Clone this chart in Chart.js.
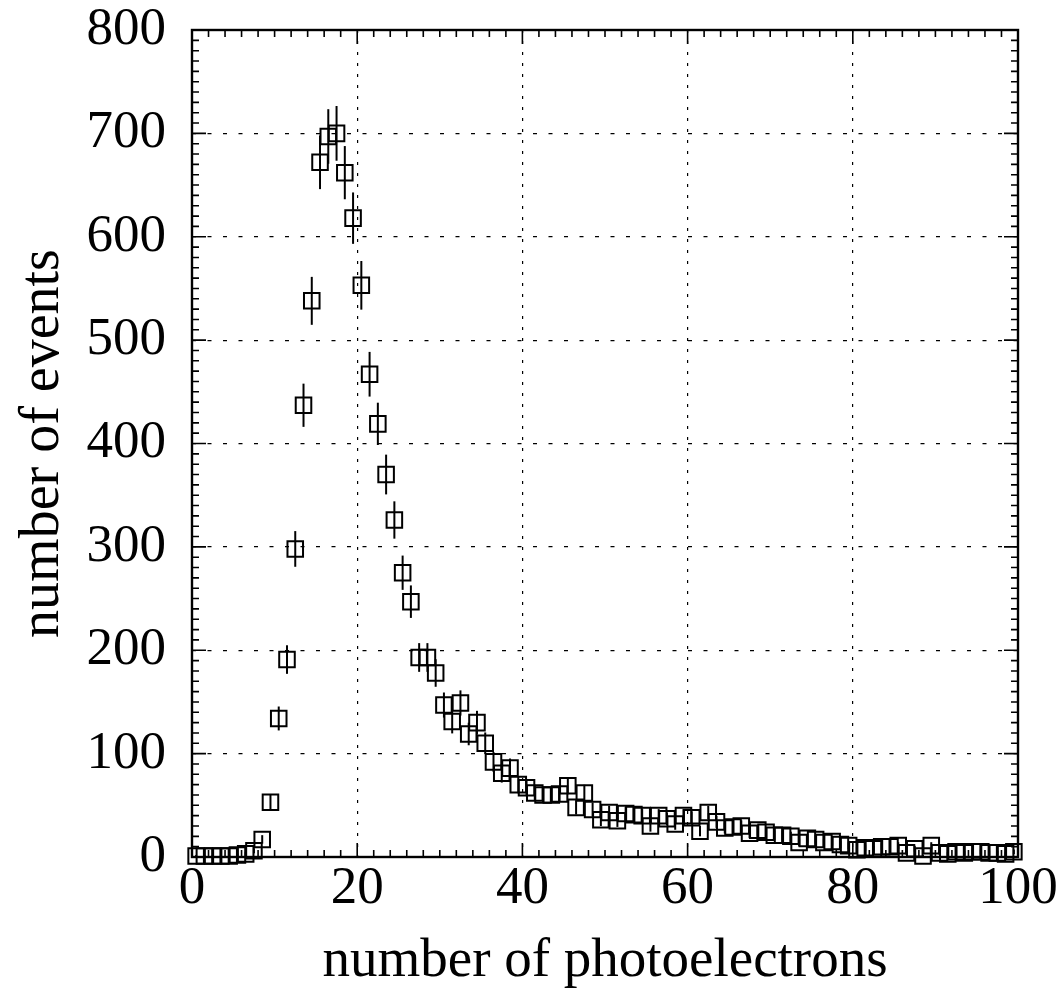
<!DOCTYPE html>
<html>
<head>
<meta charset="utf-8">
<script src="https://cdn.jsdelivr.net/npm/chart.js@4/dist/chart.umd.min.js"></script>
<style>
  html, body { margin: 0; padding: 0; background: #fff; }
  #wrap { width: 1057px; height: 996px; position: relative; }
</style>
</head>
<body>
<div id="wrap"><canvas id="chart"></canvas></div>
<script>
// histogram: 100 bins of width 1, starting at 0
const binStart = 0;
const binWidth = 1;
const counts = [
    1, 1, 1, 1, 1, 2, 3, 6, 17, 53,
    134, 191, 298, 437, 538, 672, 697, 700, 662, 618,
    553, 467, 419, 370, 326, 275, 247, 193, 193, 178,
    147, 131, 149, 119, 130, 110, 92, 81, 86, 70,
    67, 62, 60, 60, 61, 69, 48, 62, 46, 36,
    43, 35, 42, 41, 40, 30, 40, 37, 32, 40,
    38, 25, 43, 34, 28, 29, 30, 23, 26, 24,
    21, 21, 20, 14, 18, 17, 14, 15, 12, 11,
    7, 9, 8, 10, 10, 11, 4, 8, 1, 11,
    4, 3, 5, 4, 5, 5, 4, 4, 3, 5,
];
const xTicks = [0, 20, 40, 60, 80, 100];
const yTicks = [0, 100, 200, 300, 400, 500, 600, 700, 800];

const points = counts.map((n, i) => ({
    x: binStart + (i + 0.5) * binWidth,
    y: n,
}));

const serif = "'Liberation Serif', 'Times New Roman', serif";

// sqrt(N) error bars
const errorBars = {
    id: "errorBars",
    afterDatasetsDraw(chart) {
        const { ctx, scales } = chart;
        const meta = chart.getDatasetMeta(0);
        ctx.save();
        ctx.strokeStyle = "#000";
        ctx.lineWidth = 2;
        meta.data.forEach((pt, i) => {
            const n = counts[i];
            const e = Math.sqrt(n);
            ctx.beginPath();
            ctx.moveTo(pt.x, scales.y.getPixelForValue(n - e));
            ctx.lineTo(pt.x, scales.y.getPixelForValue(n + e));
            ctx.stroke();
        });
        ctx.restore();
    },
};

// box frame with inward ticks on all four sides
const frame = {
    id: "frame",
    afterDraw(chart) {
        const { ctx, chartArea: a, scales } = chart;
        ctx.save();
        ctx.strokeStyle = "#000";
        ctx.lineWidth = 1.6;
        ctx.beginPath();
        for (let v = 0; v <= 100; v += 2) {
            const px = scales.x.getPixelForValue(v);
            const len = v % 20 === 0 ? 14 : 7;
            ctx.moveTo(px, a.bottom);
            ctx.lineTo(px, a.bottom - len);
            ctx.moveTo(px, a.top);
            ctx.lineTo(px, a.top + len);
        }
        for (let v = 0; v <= 800; v += 10) {
            const py = scales.y.getPixelForValue(v);
            const len = v % 100 === 0 ? 14 : 7;
            ctx.moveTo(a.left, py);
            ctx.lineTo(a.left + len, py);
            ctx.moveTo(a.right, py);
            ctx.lineTo(a.right - len, py);
        }
        ctx.stroke();
        ctx.lineWidth = 2.4;
        ctx.strokeRect(a.left, a.top, a.right - a.left, a.bottom - a.top);
        ctx.restore();
    },
};

const edgeless = (lo, hi) => (c) =>
    c.tick && (c.tick.value === lo || c.tick.value === hi) ? "rgba(0,0,0,0)" : "#000";

new Chart(document.getElementById("chart"), {
    type: "scatter",
    data: {
        datasets: [
            {
                data: points,
                pointStyle: "rect",
                pointRadius: 11,
                pointHoverRadius: 11,
                borderColor: "#000",
                backgroundColor: "rgba(0,0,0,0)",
                borderWidth: 2,
                clip: false,
            },
        ],
    },
    options: {
        responsive: true,
        maintainAspectRatio: false,
        animation: false,
        events: [],
        layout: { padding: { top: 30, right: 39, left: 0, bottom: 0 } },
        plugins: {
            legend: { display: false },
            tooltip: { enabled: false },
        },
        scales: {
            x: {
                type: "linear",
                min: 0,
                max: 100,
                afterBuildTicks: (s) => { s.ticks = xTicks.map((v) => ({ value: v })); },
                afterFit: (s) => {
                    s.height = 139;
                    s.paddingLeft = 0;
                    s.paddingRight = 0;
                },
                ticks: {
                    color: "#000",
                    padding: 6,
                    font: { family: serif, size: 53, lineHeight: 1 },
                    maxRotation: 0,
                },
                grid: {
                    color: edgeless(0, 100),
                    lineWidth: 1.2,
                    drawTicks: false,
                },
                border: { display: false, dash: [3, 8] },
                title: {
                    display: true,
                    text: "number of photoelectrons",
                    color: "#000",
                    font: { family: serif, size: 55 },
                    padding: { top: 0, bottom: 1 },
                },
            },
            y: {
                min: 0,
                max: 800,
                afterBuildTicks: (s) => { s.ticks = yTicks.map((v) => ({ value: v })); },
                afterFit: (s) => {
                    s.width = 192;
                    s.paddingTop = 0;
                    s.paddingBottom = 0;
                },
                ticks: {
                    color: "#000",
                    padding: 26,
                    font: { family: serif, size: 53, lineHeight: 1 },
                },
                grid: {
                    color: edgeless(0, 800),
                    lineWidth: 1.2,
                    drawTicks: false,
                },
                border: { display: false, dash: [4, 11.5] },
                title: {
                    display: true,
                    text: "number of events",
                    color: "#000",
                    font: { family: serif, size: 56 },
                    padding: { top: 10, bottom: 0 },
                },
            },
        },
    },
    plugins: [errorBars, frame],
});
</script>
</body>
</html>
